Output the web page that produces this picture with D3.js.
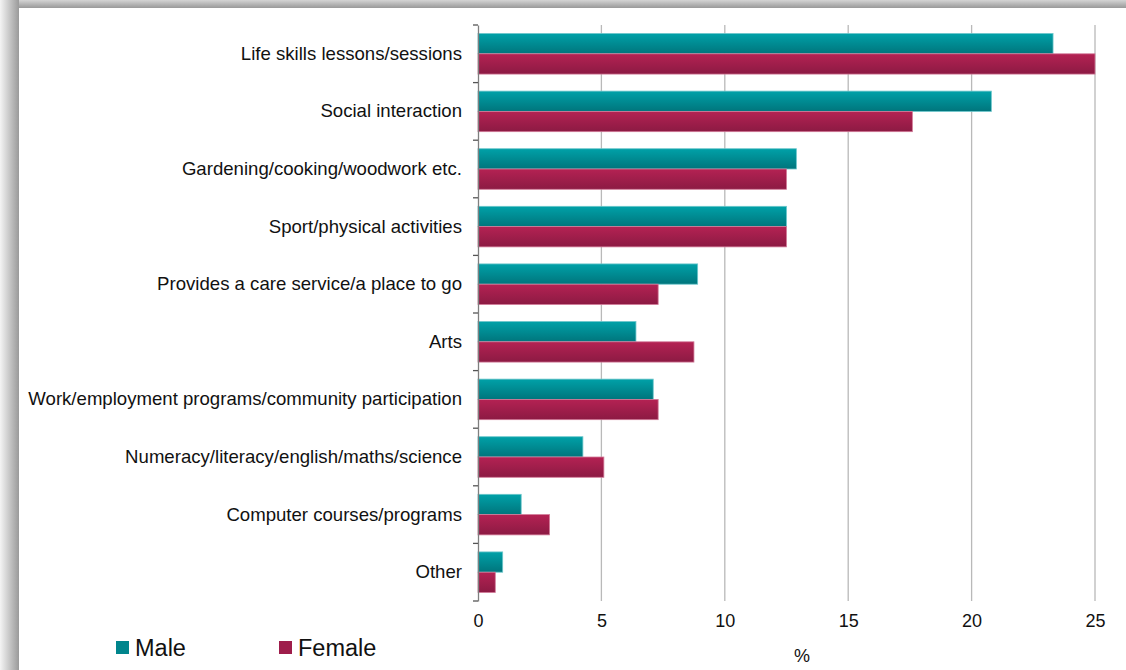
<!DOCTYPE html>
<html>
<head>
<meta charset="utf-8">
<script src="https://cdn.jsdelivr.net/npm/d3@7"></script>
<style>
  html, body { margin: 0; padding: 0; background: #fff; }
  svg { display: block; font-family: "Liberation Sans", Arial, sans-serif; }
</style>
</head>
<body>
<svg id="chart" width="1126" height="670"></svg>
<script>
// Activities by sex, percent
const categories = [
  "Life skills lessons/sessions",
  "Social interaction",
  "Gardening/cooking/woodwork etc.",
  "Sport/physical activities",
  "Provides a care service/a place to go",
  "Arts",
  "Work/employment programs/community participation",
  "Numeracy/literacy/english/maths/science",
  "Computer courses/programs",
  "Other"
];
const male   = [23.3, 20.8, 12.9, 12.5, 8.9, 6.4, 7.1, 4.25, 1.75, 1.0];
const female = [25.0, 17.6, 12.5, 12.5, 7.3, 8.75, 7.3, 5.1, 2.9, 0.7];
const xTicks = [0, 5, 10, 15, 20, 25];
const seriesNames = ["Male", "Female"];

const W = 1126, H = 670;
const svg = d3.select("#chart");
const defs = svg.append("defs");

// frame shadow along top and left edges
const gLeft = defs.append("linearGradient").attr("id", "shL").attr("x1", 0).attr("x2", 1).attr("y1", 0).attr("y2", 0);
gLeft.append("stop").attr("offset", "0%").attr("stop-color", "#f4f4f4");
gLeft.append("stop").attr("offset", "100%").attr("stop-color", "#9a9a9a");
const gTop = defs.append("linearGradient").attr("id", "shT").attr("x1", 0).attr("x2", 0).attr("y1", 0).attr("y2", 1);
gTop.append("stop").attr("offset", "0%").attr("stop-color", "#d4d4d4");
gTop.append("stop").attr("offset", "100%").attr("stop-color", "#999999");

svg.append("rect").attr("x", 0).attr("y", 0).attr("width", W).attr("height", 8).attr("fill", "url(#shT)");
svg.append("rect").attr("x", 0).attr("y", 0).attr("width", 19).attr("height", H).attr("fill", "url(#shL)");
svg.append("rect").attr("x", 19).attr("y", 8).attr("width", W - 19).attr("height", H - 8).attr("fill", "#fff");

// bar fills
function barGradient(id, top, bottom) {
  const g = defs.append("linearGradient").attr("id", id).attr("x1", 0).attr("x2", 0).attr("y1", 0).attr("y2", 1);
  g.append("stop").attr("offset", "0%").attr("stop-color", top);
  g.append("stop").attr("offset", "100%").attr("stop-color", bottom);
}
barGradient("gMale", "#00a1a8", "#00757c");
barGradient("gFemale", "#b42253", "#8c1a43");
const fills = ["url(#gMale)", "url(#gFemale)"];
const strokes = ["#6cc6cb", "#d27a98"];
const swatch = ["#00858c", "#9e1d4b"];

const margin = { left: 478, right: 31, top: 25, bottom: 69 };
const x = d3.scaleLinear().domain([0, 25]).range([margin.left, W - margin.right]);
const y = d3.scaleBand().domain(categories).range([margin.top, H - margin.bottom]).paddingInner(0).paddingOuter(0);
const inner = d3.scaleBand().domain(seriesNames).range([0, y.bandwidth()]).paddingOuter(0.42).paddingInner(0);

// vertical gridlines
svg.append("g")
  .selectAll("line")
  .data(xTicks.filter(d => d > 0))
  .join("line")
  .attr("x1", d => x(d)).attr("x2", d => x(d))
  .attr("y1", margin.top).attr("y2", H - margin.bottom)
  .attr("stroke", "#b9b9b9").attr("stroke-width", 1.3);

// bars
const rows = categories.map((c, i) => ({ c, vals: [male[i], female[i]] }));
const rowG = svg.append("g").selectAll("g").data(rows).join("g")
  .attr("transform", d => `translate(0,${y(d.c)})`);
rowG.selectAll("rect")
  .data(d => d.vals.map((v, k) => ({ v, k })))
  .join("rect")
  .attr("x", x(0))
  .attr("y", d => inner(seriesNames[d.k]))
  .attr("width", d => x(d.v) - x(0))
  .attr("height", inner.bandwidth())
  .attr("fill", d => fills[d.k])
  .attr("stroke", d => strokes[d.k])
  .attr("stroke-width", 0.8);

// category axis
const yAxis = svg.append("g")
  .attr("transform", `translate(${x(0)},0)`)
  .call(d3.axisLeft(y).tickSize(0).tickPadding(16));
yAxis.select(".domain").attr("stroke", "#7f7f7f").attr("stroke-width", 1.3);
yAxis.selectAll("text").attr("font-size", 18.6).attr("fill", "#111");
// boundary ticks between categories
const bounds = d3.range(categories.length + 1).map(i => margin.top + i * y.step());
yAxis.selectAll("line.bnd").data(bounds).join("line").attr("class", "bnd")
  .attr("x1", -5).attr("x2", 0).attr("y1", d => d).attr("y2", d => d)
  .attr("stroke", "#555").attr("stroke-width", 1.3);

// value axis labels
const xAxis = svg.append("g")
  .attr("transform", `translate(0,${H - margin.bottom})`)
  .call(d3.axisBottom(x).tickValues(xTicks).tickSize(0).tickPadding(13));
xAxis.select(".domain").remove();
xAxis.selectAll("text").attr("font-size", 18).attr("fill", "#111");

svg.append("text")
  .attr("x", 802).attr("y", 662)
  .attr("text-anchor", "middle")
  .attr("font-size", 18).attr("fill", "#111")
  .text("%");

// legend
const legend = svg.append("g").selectAll("g").data(seriesNames).join("g")
  .attr("transform", (d, i) => `translate(${[116, 279][i]},641)`);
legend.append("rect").attr("width", 13).attr("height", 13).attr("fill", (d, i) => swatch[i]);
legend.append("text").attr("x", 19).attr("y", 15)
  .attr("font-size", 23.5).attr("fill", "#111").text(d => d);
</script>
</body>
</html>
